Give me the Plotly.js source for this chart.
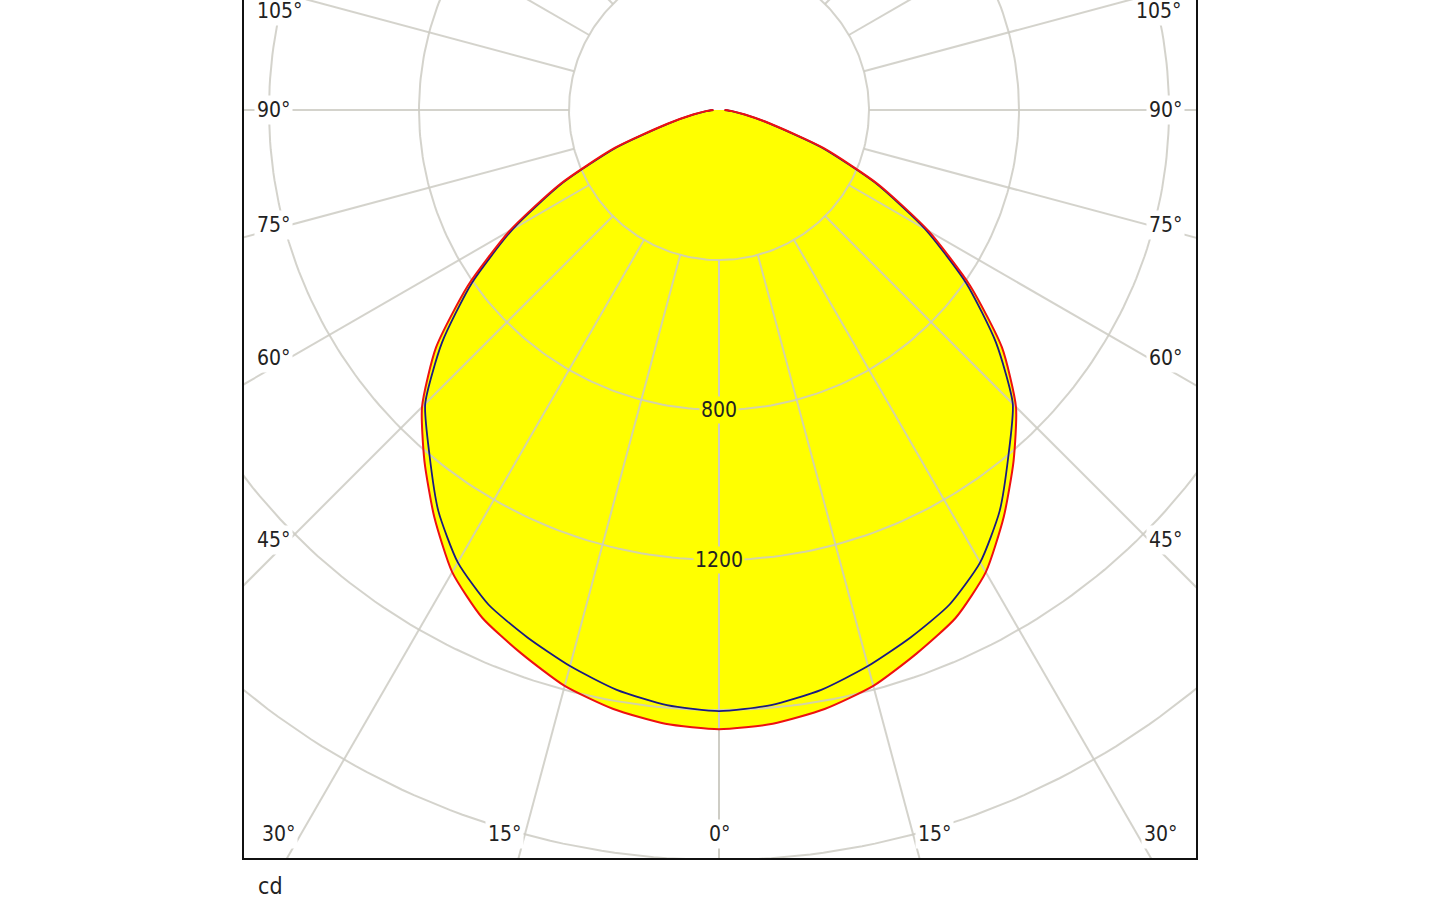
<!DOCTYPE html>
<html>
<head>
<meta charset="utf-8">
<script src="https://cdn.plot.ly/plotly-3.0.1.min.js"></script>
<style>
  html, body { margin: 0; padding: 0; background: #fff; }
  #chart { width: 1440px; height: 900px; }
</style>
</head>
<body>
<div id="chart"></div>
<script>
// luminous intensity (cd) against gamma angle, both planes symmetric
var ANGLES = [0, 5, 10, 15, 20, 25, 30, 35, 40, 45, 50, 55, 60, 65, 70, 75, 80, 85, 90];
var C0_C180 = [1651, 1643, 1622, 1590, 1542, 1494, 1423, 1324, 1222, 1120, 985, 818, 645, 468, 296, 144, 70, 35, 15];
var C90_C270 = [1603, 1593, 1570, 1535, 1496, 1455, 1393, 1305, 1201, 1108, 964, 805, 635, 460, 290, 140, 68, 34, 15];

var RINGS = [400, 800, 1200, 1600, 2000, 2400];
var RING_LABELS = [800, 1200];
var SPOKES = [0, 15, 30, 45, 60, 75, 90, 105, 120, 135, 150, 165, 180];
var SIDE_LABELS = ["105°", "90°", "75°", "60°", "45°"];
var BOTTOM_LABELS = ["30°", "15°", "0°", "15°", "30°"];

var rad = Math.PI / 180;

// gamma measured from straight down, left half then right half
function curve(vals) {
  var x = [], y = [];
  for (var i = ANGLES.length - 1; i >= 0; i--) {
    x.push(-vals[i] * Math.sin(ANGLES[i] * rad));
    y.push(-vals[i] * Math.cos(ANGLES[i] * rad));
  }
  for (var j = 1; j < ANGLES.length; j++) {
    x.push(vals[j] * Math.sin(ANGLES[j] * rad));
    y.push(-vals[j] * Math.cos(ANGLES[j] * rad));
  }
  return {x: x, y: y};
}

var gx = [], gy = [];
RINGS.forEach(function(r) {
  for (var a = 0; a <= 360; a += 1) {
    gx.push(r * Math.sin(a * rad));
    gy.push(-r * Math.cos(a * rad));
  }
  gx.push(null); gy.push(null);
});
SPOKES.forEach(function(a) {
  [-1, 1].forEach(function(side) {
    gx.push(side * 400 * Math.sin(a * rad), side * 3200 * Math.sin(a * rad), null);
    gy.push(-400 * Math.cos(a * rad), -3200 * Math.cos(a * rad), null);
  });
});

var red = curve(C0_C180);
var blue = curve(C90_C270);

var data = [
  {type: "scatter", mode: "lines", x: red.x, y: red.y, fill: "toself",
   fillcolor: "#ffff00", line: {width: 0, shape: "spline", smoothing: 0.6}, hoverinfo: "skip"},
  {type: "scatter", mode: "lines", x: gx, y: gy,
   line: {color: "rgba(205,203,195,0.85)", width: 2}, hoverinfo: "skip"},
  {type: "scatter", mode: "lines", x: blue.x, y: blue.y,
   line: {color: "#1a1a80", width: 1.8, shape: "spline", smoothing: 0.6}, hoverinfo: "skip"},
  {type: "scatter", mode: "lines", x: red.x, y: red.y,
   line: {color: "#ee1010", width: 2, shape: "spline", smoothing: 0.6}, hoverinfo: "skip"}
];

// page pixel -> paper coords of the plot area (244..1196, 0..858)
function px(x) { return (x - 244) / 952; }
function py(y) { return (858 - y) / 858; }

var font = {family: "DejaVu Sans Condensed, DejaVu Sans, sans-serif", size: 21, color: "#222"};
var annotations = [];
var sideY = [11, 110, 225, 358, 540];
SIDE_LABELS.forEach(function(t, i) {
  annotations.push({text: t, xref: "paper", yref: "paper", x: px(254), y: py(sideY[i]),
    xanchor: "left", yanchor: "middle", showarrow: false, bgcolor: "#fff", borderpad: 2, font: font});
  annotations.push({text: t, xref: "paper", yref: "paper", x: px(1185), y: py(sideY[i]),
    xanchor: "right", yanchor: "middle", showarrow: false, bgcolor: "#fff", borderpad: 2, font: font});
});
var bottomX = [278, 504, 719, 934, 1160];
BOTTOM_LABELS.forEach(function(t, i) {
  annotations.push({text: t, xref: "paper", yref: "paper", x: px(bottomX[i]), y: py(834),
    xanchor: "center", yanchor: "middle", showarrow: false, bgcolor: "#fff", borderpad: 2, font: font});
});
RING_LABELS.forEach(function(v) {
  annotations.push({text: String(v), xref: "x", yref: "y", x: 0, y: -v,
    xanchor: "center", yanchor: "middle", showarrow: false, bgcolor: "#ffff00", borderpad: 1, font: font});
});
annotations.push({text: "cd", xref: "paper", yref: "paper", x: px(256), y: py(886),
  xanchor: "left", yanchor: "middle", showarrow: false,
  font: {family: font.family, size: 23, color: "#222"}});

var s = 400 / 150; // cd per pixel
var layout = {
  width: 1440,
  height: 900,
  margin: {l: 244, r: 244, t: 0, b: 42},
  paper_bgcolor: "#fff",
  plot_bgcolor: "#fff",
  showlegend: false,
  xaxis: {range: [-475 * s, 477 * s], showgrid: false, zeroline: false, showticklabels: false,
          ticks: "", showline: true, linecolor: "#111", linewidth: 2, mirror: false, fixedrange: true},
  yaxis: {range: [-748 * s, 110 * s], showgrid: false, zeroline: false, showticklabels: false,
          ticks: "", showline: true, linecolor: "#111", linewidth: 2, mirror: true, fixedrange: true},
  annotations: annotations
};

Plotly.newPlot("chart", data, layout, {displayModeBar: false, staticPlot: true});
</script>
</body>
</html>
